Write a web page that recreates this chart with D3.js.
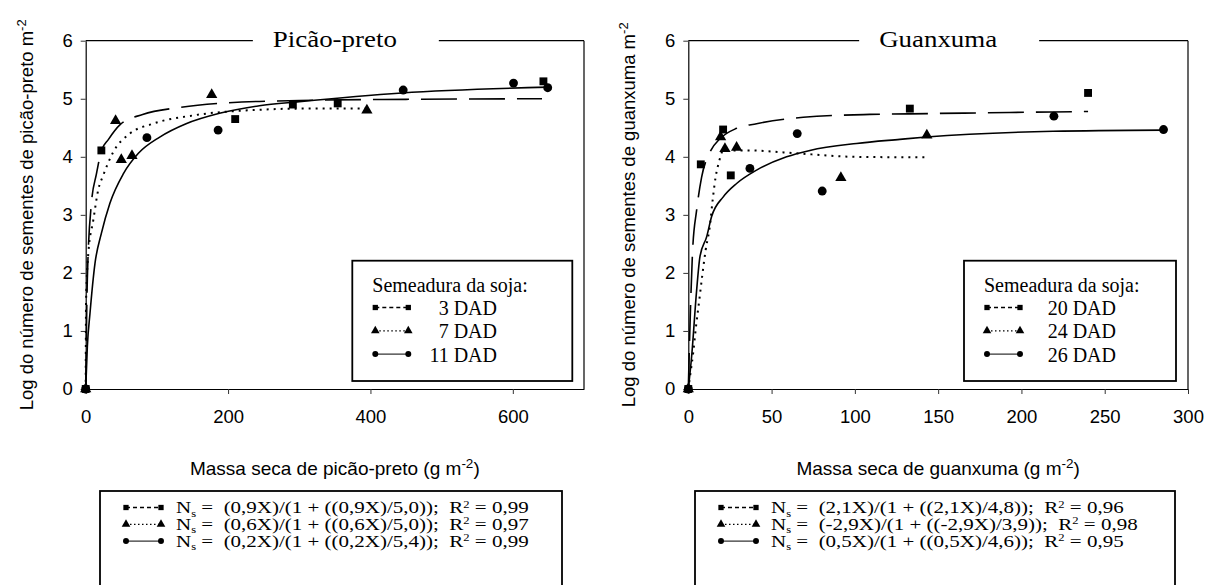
<!DOCTYPE html>
<head>
<meta charset="utf-8">
<script src="https://d3js.org/d3.v7.min.js"></script>
<style>
body { margin: 0; background-color: #fff; }
svg text { fill: #000; }
.serif { font-family: "Liberation Serif", "Times New Roman", serif; }
.sans { font-family: "Liberation Sans", Arial, sans-serif; }
.pre { white-space: pre; }
</style>
</head>
<body>
<div id="my_dataviz"></div>

<script>
// ---------- values ----------
var yTicks = [0, 1, 2, 3, 4, 5, 6];

// Picão-preto panel
var picaoXTicks = [0, 200, 400, 600];
var picaoSowing = ["3 DAD", "7 DAD", "11 DAD"];
var picao3X = [0, 22, 210, 291, 354, 643];
var picao3Y = [0, 4.11, 4.65, 4.90, 4.92, 5.30];
var picao7X = [0, 42, 50, 65, 177, 395];
var picao7Y = [0, 4.62, 3.95, 4.02, 5.07, 4.80];
var picao11X = [0, 86, 186, 446, 601, 649];
var picao11Y = [0, 4.33, 4.46, 5.15, 5.27, 5.19];
// fitted curves
var picao3CurveX = [0, 2.3, 8, 15, 22, 32, 48, 80, 132, 200, 300, 450, 641];
var picao3CurveY = [0, 1.9, 3.2, 3.7, 4.1, 4.3, 4.55, 4.73, 4.85, 4.93, 4.97, 4.99, 5.0];
var picao7CurveX = [0, 0.5, 3.7, 10.7, 17.6, 24.6, 38.6, 62, 94.5, 155, 244, 300, 395];
var picao7CurveY = [0, 1.5, 2.34, 2.91, 3.43, 3.68, 4.08, 4.40, 4.57, 4.72, 4.81, 4.83, 4.83];
var picao11CurveX = [0, 2.3, 6, 13, 22, 34, 53, 74, 104, 141, 188, 244, 300, 444, 650];
var picao11CurveY = [0, 0.73, 1.3, 2.16, 2.68, 3.2, 3.71, 4.06, 4.34, 4.57, 4.75, 4.88, 4.95, 5.1, 5.2];
var picaoCoef = ["0,9", "0,6", "0,2"];
var picaoAsym = ["5,0", "5,0", "5,4"];
var picaoR2 = ["0,99", "0,97", "0,99"];

// Guanxuma panel
var guanXTicks = [0, 50, 100, 150, 200, 250, 300];
var guanSowing = ["20 DAD", "24 DAD", "26 DAD"];
var guan20X = [0, 7.5, 20.9, 25.5, 133, 240];
var guan20Y = [0, 3.87, 4.47, 3.68, 4.83, 5.10];
var guan24X = [0, 19.4, 22, 29, 91.6, 143.2];
var guan24Y = [0, 4.34, 4.14, 4.16, 3.64, 4.37];
var guan26X = [0, 37, 65.4, 80.4, 219.5, 285.3];
var guan26Y = [0, 3.80, 4.40, 3.41, 4.70, 4.47];
var guan20CurveX = [0, 1.4, 2.6, 5, 8, 13, 19, 29, 41, 69, 109, 133, 240];
var guan20CurveY = [0, 1.47, 2.39, 3.08, 3.65, 4.08, 4.31, 4.49, 4.57, 4.68, 4.73, 4.74, 4.78];
var guan24CurveX = [0, 1, 3, 4.6, 6.6, 8.4, 10.4, 13, 14.6, 16.4, 18.4, 21, 35, 65, 99, 144];
var guan24CurveY = [0, 0.21, 0.64, 1.07, 1.53, 1.96, 2.39, 2.82, 3.25, 3.65, 3.91, 4.11, 4.11, 4.06, 4.0, 3.99];
var guan26CurveX = [0, 2, 5, 7, 11, 14, 21, 29, 41, 59, 73, 101, 127, 143, 219, 285];
var guan26CurveY = [0, 0.56, 1.70, 2.28, 2.62, 2.97, 3.31, 3.54, 3.77, 4.0, 4.11, 4.23, 4.30, 4.34, 4.44, 4.46];
var guanCoef = ["2,1", "-2,9", "0,5"];
var guanAsym = ["4,8", "3,9", "4,6"];
var guanR2 = ["0,96", "0,98", "0,95"];

// ---------- layout ----------
var yTop = 40.7, yBottom = 389;
var symbols = [d3.symbolSquare, d3.symbolTriangle, d3.symbolCircle];
var dashes = ["36,12", "2,5", null];
var swatchDash = ["4,3", "1.5,2.5", null];

function zip(a, b) { return a.map(function(v, i) { return [v, b[i]]; }); }

var panels = [
  { left: 85.7, right: 584, xMax: 700, xTicks: picaoXTicks, title: "Picão-preto",
    yLabel: "Log do número de sementes de picão-preto m", xLabel: "Massa seca de picão-preto (g m",
    sowing: picaoSowing,
    points: [zip(picao3X, picao3Y), zip(picao7X, picao7Y), zip(picao11X, picao11Y)],
    curves: [zip(picao3CurveX, picao3CurveY), zip(picao7CurveX, picao7CurveY), zip(picao11CurveX, picao11CurveY)],
    coef: picaoCoef, asym: picaoAsym, r2: picaoR2,
    legX: 352.3, legW: 220, legLabelEnd: 497, eqX: 100, eqW: 462 },
  { left: 688.3, right: 1188, xMax: 300, xTicks: guanXTicks, title: "Guanxuma",
    yLabel: "Log do número de sementes de guanxuma m", xLabel: "Massa seca de guanxuma (g m",
    sowing: guanSowing,
    points: [zip(guan20X, guan20Y), zip(guan24X, guan24Y), zip(guan26X, guan26Y)],
    curves: [zip(guan20CurveX, guan20CurveY), zip(guan24CurveX, guan24CurveY), zip(guan26CurveX, guan26CurveY)],
    coef: guanCoef, asym: guanAsym, r2: guanR2,
    legX: 964, legW: 212, legLabelEnd: 1116, eqX: 695, eqW: 480 }
];

var svg = d3.select("#my_dataviz")
  .append("svg")
  .attr("width", 1205)
  .attr("height", 585);

function drawPanel(p) {
  var x = d3.scaleLinear().domain([0, p.xMax]).range([p.left, p.right]);
  var y = d3.scaleLinear().domain([0, 6]).range([yBottom, yTop]);
  var g = svg.append("g");
  var cx = (p.left + p.right) / 2;

  // axes
  var xa = g.append("g")
    .attr("transform", "translate(0," + yBottom + ")")
    .call(d3.axisBottom(x).tickValues(p.xTicks).tickFormat(d3.format("d"))
      .tickSize(5).tickPadding(16).tickSizeOuter(0));
  var ya = g.append("g")
    .attr("transform", "translate(" + p.left + ",0)")
    .call(d3.axisLeft(y).tickValues(yTicks).tickFormat(d3.format("d"))
      .tickSize(5).tickPadding(8).tickSizeOuter(0));
  [xa, ya].forEach(function(a) {
    a.attr("font-family", "Liberation Sans, Arial, sans-serif").attr("font-size", 18.5);
    a.selectAll(".domain").attr("stroke", "#000").attr("stroke-width", 1.2);
    a.selectAll(".tick line").attr("stroke", "#333");
  });

  // title, with a gap in the top frame line
  var t = g.append("text")
    .attr("class", "serif")
    .attr("transform", "translate(" + cx + ",47) scale(1.17,1)")
    .attr("text-anchor", "middle")
    .style("font-size", "23px")
    .text(p.title);
  var tw = t.node().getBBox().width * 1.17;
  g.append("line").attr("x1", p.left).attr("x2", cx - tw / 2 - 20).attr("y1", yTop).attr("y2", yTop)
    .attr("stroke", "#000").attr("stroke-width", 1.2);
  g.append("line").attr("x1", cx + tw / 2 + 42).attr("x2", p.right).attr("y1", yTop).attr("y2", yTop)
    .attr("stroke", "#000").attr("stroke-width", 1.2);
  g.append("line").attr("x1", p.right).attr("x2", p.right).attr("y1", yTop).attr("y2", yBottom)
    .attr("stroke", "#000").attr("stroke-width", 1.2);

  // fitted curves
  var line = d3.line().x(function(d) { return x(d[0]); }).y(function(d) { return y(d[1]); })
    .curve(d3.curveMonotoneX);
  p.curves.forEach(function(c, i) {
    g.append("path")
      .attr("d", line(c))
      .attr("fill", "none")
      .attr("stroke", "#000")
      .attr("stroke-width", i == 1 ? 2 : 1.6)
      .attr("stroke-dasharray", dashes[i]);
  });

  // observed points
  p.points.forEach(function(pts, i) {
    g.selectAll(null).data(pts).enter().append("path")
      .attr("transform", function(d) { return "translate(" + x(d[0]) + "," + y(d[1]) + ")"; })
      .attr("d", d3.symbol().type(symbols[i]).size(i == 1 ? 55 : 62))
      .attr("fill", "#000");
  });

  // axis titles
  var yl = g.append("text")
    .attr("class", "sans")
    .attr("transform", "rotate(-90)")
    .attr("x", -(yTop + yBottom) / 2)
    .attr("y", p.left - 53)
    .attr("text-anchor", "middle")
    .style("font-size", "18.5px");
  yl.append("tspan").text(p.yLabel);
  yl.append("tspan").attr("dy", -7).style("font-size", "13px").text("-2");

  var xl = g.append("text")
    .attr("class", "sans")
    .attr("x", cx)
    .attr("y", 475)
    .attr("text-anchor", "middle")
    .style("font-size", "19px");
  xl.append("tspan").text(p.xLabel);
  xl.append("tspan").attr("dy", -7).style("font-size", "13.5px").text("-2");
  xl.append("tspan").attr("dy", 7).text(")");

  // legend box
  var lg = g.append("g");
  lg.append("rect").attr("x", p.legX).attr("y", 260.7).attr("width", p.legW).attr("height", 120.3)
    .attr("fill", "#fff").attr("stroke", "#000").attr("stroke-width", 1.8);
  lg.append("text").attr("class", "serif").attr("x", p.legX + 20).attr("y", 292.3)
    .style("font-size", "20px").text("Semeadura da soja:");
  p.sowing.forEach(function(s, i) {
    var base = 315 + 23.3 * i;
    swatch(lg, p.legX + 23, p.legX + 56, base - 7.5, i);
    lg.append("text").attr("class", "serif").attr("x", p.legLabelEnd).attr("y", base)
      .attr("text-anchor", "end").style("font-size", "20px").text(s);
  });

  // equation box
  var eg = g.append("g");
  eg.append("rect").attr("x", p.eqX).attr("y", 491).attr("width", p.eqW).attr("height", 110)
    .attr("fill", "#fff").attr("stroke", "#000").attr("stroke-width", 1.8);
  p.coef.forEach(function(c, i) {
    var base = 513 + 16.8 * i;
    swatch(eg, p.eqX + 26, p.eqX + 61, base - 5.5, i);
    var et = eg.append("text").attr("class", "serif pre")
      .attr("transform", "translate(" + (p.eqX + 76) + "," + base + ") scale(1.2,1)")
      .style("font-size", "17.5px");
    et.append("tspan").text("N");
    et.append("tspan").attr("dy", 3.5).style("font-size", "10.5px").text("s");
    et.append("tspan").attr("dy", -3.5).text(" =  (" + c + "X)/(1 + ((" + c + "X)/" + p.asym[i] + "));  R");
    et.append("tspan").attr("dy", -5.5).style("font-size", "10.5px").text("2");
    et.append("tspan").attr("dy", 5.5).text(" = " + p.r2[i]);
  });
}

// marker - line - marker sample as used in the legends
function swatch(sel, x1, x2, yy, i) {
  sel.append("line").attr("x1", x1).attr("x2", x2).attr("y1", yy).attr("y2", yy)
    .attr("stroke", "#000").attr("stroke-width", i == 2 ? 1 : 1.3)
    .attr("stroke-dasharray", swatchDash[i]);
  [x1, x2].forEach(function(xx) {
    sel.append("path")
      .attr("transform", "translate(" + xx + "," + yy + ")")
      .attr("d", d3.symbol().type(symbols[i]).size(i == 1 ? 32 : 28))
      .attr("fill", "#000");
  });
}

panels.forEach(drawPanel);
</script>
</body>
